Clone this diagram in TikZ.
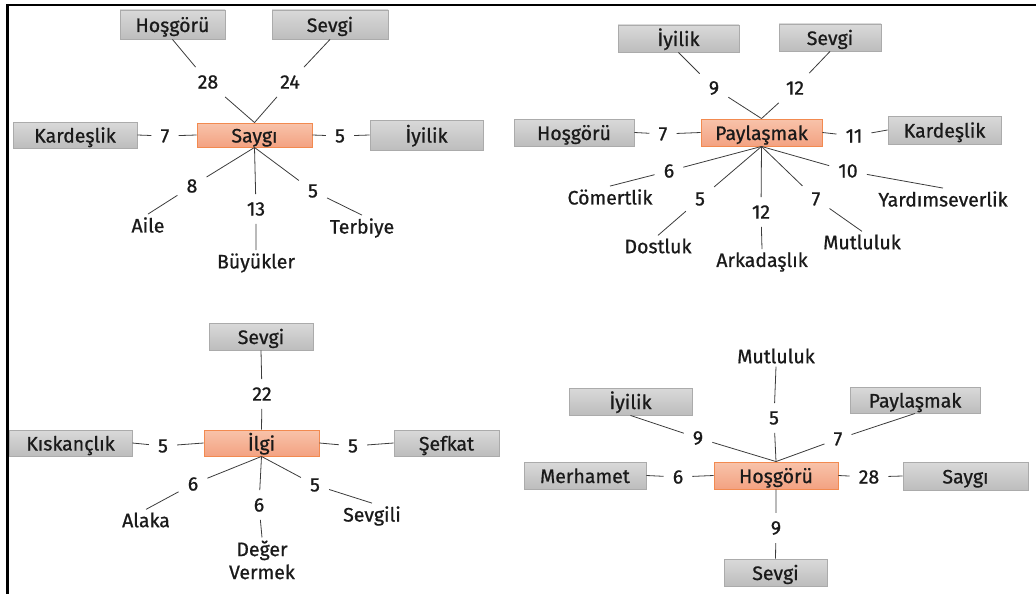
\documentclass[tikz,border=0pt]{standalone}
\usepackage{fontspec}
\setmainfont{Fira Sans}[FakeBold=0.8]
\usetikzlibrary{shadings}
\definecolor{boxtop}{HTML}{D9D9D9}
\definecolor{boxbot}{HTML}{BDBDBD}
\definecolor{boxline}{HTML}{ABABAB}
\definecolor{hubtop}{HTML}{F8C3AA}
\definecolor{hubbot}{HTML}{F3A282}
\definecolor{hubline}{HTML}{F28A50}
\definecolor{ink}{HTML}{1A1A1A}
\definecolor{wire}{HTML}{3C3C3C}
\begin{document}
\begin{tikzpicture}[x=1pt,y=-1pt,
  every node/.style={font=\fontsize{19.5}{23}\selectfont, text=ink},
  catbox/.style={rectangle, draw=boxline, line width=0.9pt, top color=boxtop, bottom color=boxbot, inner sep=0pt, text height=15pt, text depth=0pt},
  hub/.style={rectangle, draw=hubline, line width=0.9pt, top color=hubtop, bottom color=hubbot, inner sep=0pt, text height=15pt, text depth=0pt},
  num/.style={inner xsep=9pt, inner ysep=8pt},
  word/.style={inner sep=3pt},
  link/.style={draw=wire, line width=0.8pt}]
\useasboundingbox (0,0) rectangle (1036,594);
% frame
\draw[line width=2.6pt] (7.5,594) -- (7.5,5) -- (1036,5);

% ---------- Saygı ----------
\node[hub, minimum width=115pt, minimum height=24pt] (sHub) at (254.5,135) {Saygı};
\node[catbox, minimum width=105pt, minimum height=29pt] (sHos) at (172.5,24.5) {Hoşgörü};
\node[catbox, minimum width=116pt, minimum height=29pt] (sSev) at (330,24.5) {Sevgi};
\node[catbox, minimum width=124pt, minimum height=26pt] (sKar) at (75,135) {Kardeşlik};
\node[catbox, minimum width=113pt, minimum height=30pt] (sIyi) at (426.5,135) {İyilik};
\node[num] (s28) at (208,82) {28};
\node[num] (s24) at (290,82) {24};
\node[num] (s7) at (165,136) {7};
\node[num] (s5a) at (340,136) {5};
\node[num] (s8) at (192,186) {8};
\node[num] (s13) at (256,209) {13};
\node[num] (s5b) at (313,191) {5};
\node[word] (sAile) at (148,225) {Aile};
\node[word] (sBuy) at (256,263) {Büyükler};
\node[word] (sTer) at (362,228) {Terbiye};
\draw[link] (sHub.north) -- (s28) -- (sHos.south);
\draw[link] (sHub.north) -- (s24) -- (sSev.south);
\draw[link] (sKar.east) -- (s7) -- (sHub.west);
\draw[link] (sHub.east) -- (s5a) -- (sIyi.west);
\draw[link] (sHub.south) -- (s8) -- (sAile.north);
\draw[link] (sHub.south) -- (s13) -- (sBuy.north);
\draw[link] (sHub.south) -- (s5b) -- (sTer.north);

% ---------- Paylaşmak ----------
\node[hub, minimum width=121pt, minimum height=27pt] (pHub) at (761.5,132.5) {Paylaşmak};
\node[catbox, minimum width=121pt, minimum height=27pt] (pIyi) at (678.5,38.5) {İyilik};
\node[catbox, minimum width=102pt, minimum height=27pt] (pSev) at (830,37.5) {Sevgi};
\node[catbox, minimum width=120pt, minimum height=27pt] (pHos) at (574,132.5) {Hoşgörü};
\node[catbox, minimum width=113pt, minimum height=28pt] (pKar) at (944.5,130) {Kardeşlik};
\node[num] (p9) at (714,88) {9};
\node[num] (p12a) at (795,88) {12};
\node[num] (p7a) at (663,134) {7};
\node[num] (p11) at (854,136) {11};
\node[num] (p6) at (669,171) {6};
\node[num] (p10) at (848,171) {10};
\node[num] (p5) at (700,199) {5};
\node[num] (p12b) at (761,212) {12};
\node[num] (p7b) at (816,199) {7};
\node[word] (pCom) at (610,197) {Cömertlik};
\node[word] (pYar) at (943,199) {Yardımseverlik};
\node[word] (pDos) at (658,246) {Dostluk};
\node[word] (pArk) at (762,262) {Arkadaşlık};
\node[word] (pMut) at (862,242) {Mutluluk};
\draw[link] (pHub.north) -- (p9) -- (pIyi.south);
\draw[link] (pHub.north) -- (p12a) -- (pSev.south);
\draw[link] (pHos.east) -- (p7a) -- (pHub.west);
\draw[link] (pHub.east) -- (p11) -- (pKar.west);
\draw[link] (pHub.south) -- (p6) -- (pCom.north);
\draw[link] (pHub.south) -- (p10) -- (pYar.north);
\draw[link] (pHub.south) -- (p5) -- (pDos.north);
\draw[link] (pHub.south) -- (p12b) -- (pArk.north);
\draw[link] (pHub.south) -- (p7b) -- (pMut.north);

% ---------- İlgi ----------
\node[hub, minimum width=115pt, minimum height=26pt] (iHub) at (261.5,443) {İlgi};
\node[catbox, minimum width=104pt, minimum height=27pt] (iSev) at (261,336.5) {Sevgi};
\node[catbox, minimum width=123pt, minimum height=26pt] (iKis) at (70.5,443) {Kıskançlık};
\node[catbox, minimum width=105pt, minimum height=26pt] (iSef) at (446.5,443) {Şefkat};
\node[num] (i22) at (262,394) {22};
\node[num] (i5a) at (163,446) {5};
\node[num] (i5b) at (353,446) {5};
\node[num] (i6a) at (193,484) {6};
\node[num] (i6b) at (259,505) {6};
\node[num] (i5c) at (315,485) {5};
\node[word] (iAla) at (146,520) {Alaka};
\node[word, align=center] (iDeg) at (262,560) {Değer\\Vermek};
\node[word] (iSvl) at (372,516) {Sevgili};
\draw[link] (iHub.north) -- (i22) -- (iSev.south);
\draw[link] (iKis.east) -- (i5a) -- (iHub.west);
\draw[link] (iHub.east) -- (i5b) -- (iSef.west);
\draw[link] (iHub.south) -- (i6a) -- (iAla.north);
\draw[link] (iHub.south) -- (i6b) -- (iDeg.north);
\draw[link] (iHub.south) -- (i5c) -- (iSvl.north);

% ---------- Hoşgörü ----------
\node[hub, minimum width=124pt, minimum height=27pt] (hHub) at (776,475.5) {Hoşgörü};
\node[catbox, minimum width=123pt, minimum height=27pt] (hIyi) at (630.5,401.5) {İyilik};
\node[catbox, minimum width=130pt, minimum height=26pt] (hPay) at (915,400) {Paylaşmak};
\node[catbox, minimum width=122pt, minimum height=27pt] (hMer) at (585,475.5) {Merhamet};
\node[catbox, minimum width=125pt, minimum height=28pt] (hSay) at (965.5,476) {Saygı};
\node[catbox, minimum width=103pt, minimum height=27pt] (hSev) at (775.5,572.5) {Sevgi};
\node[word] (hMut) at (776,356) {Mutluluk};
\node[num] (h5) at (774,418) {5};
\node[num] (h9a) at (698,438) {9};
\node[num] (h7) at (838,439) {7};
\node[num] (h6) at (678,477) {6};
\node[num] (h28) at (869,477) {28};
\node[num] (h9b) at (776,528) {9};
\draw[link] (hHub.north) -- (h5) -- (hMut.south);
\draw[link] (hHub.north) -- (h9a) -- (hIyi.south);
\draw[link] (hHub.north) -- (h7) -- (hPay.south);
\draw[link] (hMer.east) -- (h6) -- (hHub.west);
\draw[link] (hHub.east) -- (h28) -- (hSay.west);
\draw[link] (hHub.south) -- (h9b) -- (hSev.north);
\end{tikzpicture}
\end{document}
